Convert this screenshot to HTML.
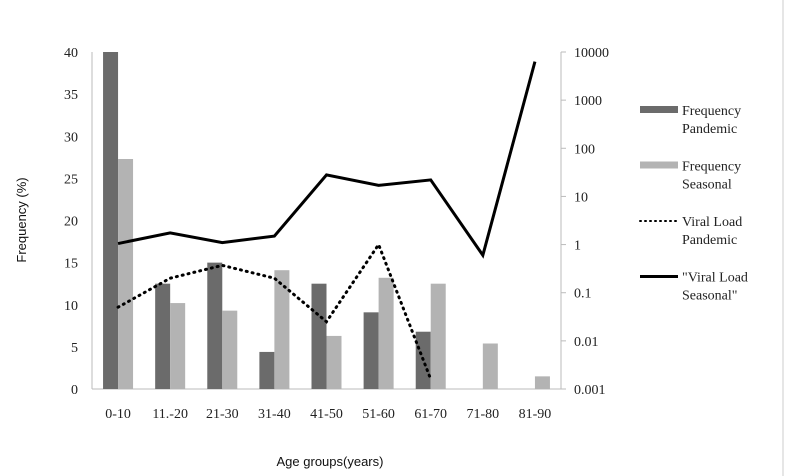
<!DOCTYPE html>
<html><head><meta charset="utf-8"><style>
body{margin:0;background:#fff}
svg{display:block}
.t{font-family:"Liberation Serif",serif;font-size:14px;fill:#222}
.s{font-family:"Liberation Sans",sans-serif;font-size:13px;fill:#111}
</style></head><body>
<svg width="800" height="476">
<line x1="783" y1="0" x2="783" y2="476" stroke="#ccc"/>
<g id="g"></g>
</svg>
<script>
const categories=["0-10","11.-20","21-30","31-40","41-50","51-60","61-70","71-80","81-90"];
const freqPandemic=[40,12.5,15,4.4,12.5,9.1,6.8,0,0];
const freqSeasonal=[27.3,10.2,9.3,14.1,6.3,13.2,12.5,5.4,1.5];
const vlPandemic=[0.05,0.2,0.37,0.2,0.025,1,0.0016];
const vlSeasonal=[1.05,1.75,1.1,1.5,28,17,22,0.6,6300];
const leftTicks=[0,5,10,15,20,25,30,35,40];
const rightTicks=["0.001","0.01","0.1","1","10","100","1000","10000"];
const NS="http://www.w3.org/2000/svg",g=document.getElementById('g');
const X0=92,X1=561,Y0=389,Y1=52,bw=(X1-X0)/categories.length;
const yL=v=>Y0-(v/40)*(Y0-Y1);
const yR=v=>Y0-((Math.log10(v)+3)/7)*(Y0-Y1);
const xc=i=>X0+bw*(i+0.5);
function mk(t,a,txt){const e=document.createElementNS(NS,t);for(const k in a)e.setAttribute(k,a[k]);if(txt!=null)e.textContent=txt;g.appendChild(e);return e;}
let e;
e=mk('line',{x1:X0,y1:Y1,x2:X0,y2:Y0,stroke:'#bbb'});


e=mk('line',{x1:X0,y1:Y0,x2:X1,y2:Y0,stroke:'#bbb'});


e=mk('line',{x1:X1,y1:Y1,x2:X1,y2:Y0,stroke:'#bbb'});


leftTicks.forEach(v=>{e=mk('text',{x:78,y:yL(v)+5,'text-anchor':'end',class:'t'},v);

});
rightTicks.forEach(v=>{const y=yR(+v);
e=mk('line',{x1:X1,y1:y,x2:X1+5,y2:y,stroke:'#bbb'});


e=mk('text',{x:574,y:y+5,class:'t'},v);

});
categories.forEach((c,i)=>{
e=mk('rect',{x:xc(i)-15,y:yL(freqPandemic[i]),width:15,height:Y0-yL(freqPandemic[i]),fill:'#6b6b6b'});


e=mk('rect',{x:xc(i),y:yL(freqSeasonal[i]),width:15,height:Y0-yL(freqSeasonal[i]),fill:'#b3b3b3'});


e=mk('text',{x:xc(i),y:418,'text-anchor':'middle',class:'t'},c);

});
e=mk('polyline',{points:vlPandemic.map((v,i)=>xc(i)+','+yR(v)).join(' '),fill:'none',stroke:'#000','stroke-width':3,'stroke-dasharray':'1 5','stroke-linecap':'round'});


e=mk('polyline',{points:vlSeasonal.map((v,i)=>xc(i)+','+yR(v)).join(' '),fill:'none',stroke:'#000','stroke-width':3});


e=mk('text',{x:330,y:466,'text-anchor':'middle',class:'s'},'Age groups(years)');


e=mk('text',{x:26,y:220,'text-anchor':'middle',class:'s',transform:'rotate(-90 26 220)'},'Frequency (%)');


const leg=[["Frequency","Pandemic",'bar','#6b6b6b'],["Frequency","Seasonal",'bar','#b3b3b3'],["Viral Load","Pandemic",'dot'],["\"Viral Load","Seasonal\"",'line']];
leg.forEach((l,k)=>{const y=110+k*55.5;
if(l[2]=='bar'){e=mk('rect',{x:640,y:y-4,width:38,height:7,fill:l[3]});}
else if(l[2]=='dot'){e=mk('line',{x1:640,y1:y,x2:677,y2:y,stroke:'#000','stroke-width':2,'stroke-dasharray':'1 4','stroke-linecap':'round'});}
else{e=mk('line',{x1:640,y1:y,x2:678,y2:y,stroke:'#000','stroke-width':3});}


e=mk('text',{x:682,y:y+5,class:'t'},l[0]);


e=mk('text',{x:682,y:y+23,class:'t'},l[1]);

});
</script>
</body></html>
